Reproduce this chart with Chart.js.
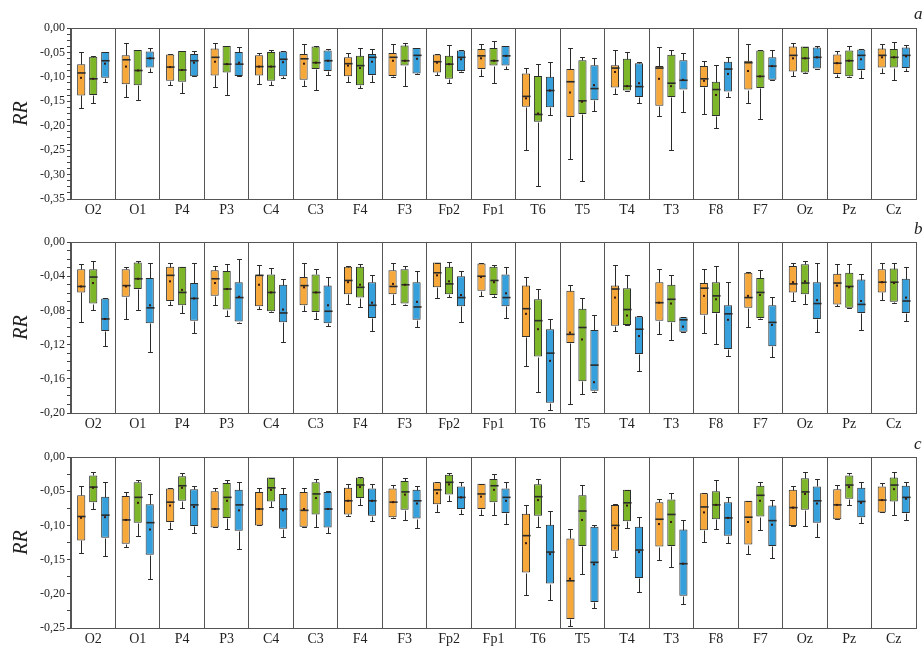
<!DOCTYPE html>
<html>
<head>
<meta charset="utf-8">
<script src="https://cdn.jsdelivr.net/npm/chart.js@4.4.1/dist/chart.umd.min.js"></script>
<style>
  body { margin: 0; background: #fff; width: 923px; height: 646px; overflow: hidden; position: relative; }
  canvas { position: absolute; left: 0; }
  .letter { position: absolute; font-family: "Liberation Serif", serif; font-style: italic; font-size: 17px; color: #222; }
</style>
</head>
<body>
<canvas id="panelA" width="923" height="215" style="top:0px"></canvas>
<canvas id="panelB" width="923" height="215" style="top:215px"></canvas>
<canvas id="panelC" width="923" height="216" style="top:430px"></canvas>
<div class="letter" style="left:914px;top:4px">a</div>
<div class="letter" style="left:914px;top:219px">b</div>
<div class="letter" style="left:914px;top:434px">c</div>
<script>
const electrodes = ["O2", "O1", "P4", "P3", "C4", "C3", "F4", "F3", "Fp2", "Fp1",
    "T6", "T5", "T4", "T3", "F8", "F7", "Oz", "Pz", "Cz"];

// each row: [whisker top, box top, median, box bottom, whisker bottom, mean]
const aOrange = [
    [-0.049, -0.074, -0.092, -0.138, -0.164, -0.102], [-0.030, -0.056, -0.065, -0.115, -0.141, -0.079],
    [-0.054, -0.054, -0.080, -0.108, -0.117, -0.080], [-0.031, -0.042, -0.060, -0.097, -0.121, -0.069],
    [-0.051, -0.056, -0.079, -0.097, -0.114, -0.079], [-0.033, -0.053, -0.063, -0.106, -0.119, -0.073],
    [-0.051, -0.060, -0.073, -0.099, -0.110, -0.077], [-0.033, -0.051, -0.060, -0.098, -0.101, -0.067],
    [-0.054, -0.054, -0.069, -0.091, -0.097, -0.071], [-0.032, -0.043, -0.057, -0.084, -0.099, -0.062],
    [-0.081, -0.093, -0.140, -0.161, -0.250, -0.144], [-0.040, -0.084, -0.110, -0.182, -0.269, -0.132],
    [-0.045, -0.076, -0.082, -0.122, -0.136, -0.090], [-0.038, -0.078, -0.082, -0.159, -0.181, -0.104],
    [-0.067, -0.078, -0.104, -0.121, -0.175, -0.108], [-0.033, -0.067, -0.071, -0.126, -0.154, -0.088],
    [-0.030, -0.038, -0.056, -0.089, -0.099, -0.062], [-0.047, -0.054, -0.072, -0.094, -0.101, -0.072],
    [-0.032, -0.042, -0.056, -0.081, -0.093, -0.060]
];
const aGreen = [
    [-0.058, -0.059, -0.104, -0.137, -0.154, -0.104], [-0.045, -0.045, -0.087, -0.117, -0.147, -0.087],
    [-0.047, -0.047, -0.086, -0.110, -0.134, -0.086], [-0.037, -0.037, -0.074, -0.091, -0.137, -0.074],
    [-0.045, -0.049, -0.079, -0.108, -0.117, -0.079], [-0.036, -0.038, -0.071, -0.084, -0.127, -0.071],
    [-0.040, -0.057, -0.077, -0.117, -0.123, -0.082], [-0.030, -0.036, -0.067, -0.077, -0.119, -0.067],
    [-0.034, -0.057, -0.074, -0.104, -0.112, -0.074], [-0.026, -0.041, -0.067, -0.077, -0.112, -0.067],
    [-0.074, -0.098, -0.177, -0.192, -0.324, -0.175], [-0.060, -0.066, -0.149, -0.176, -0.313, -0.151],
    [-0.049, -0.063, -0.119, -0.128, -0.129, -0.119], [-0.045, -0.055, -0.113, -0.141, -0.250, -0.119],
    [-0.075, -0.110, -0.126, -0.180, -0.204, -0.137], [-0.046, -0.046, -0.099, -0.123, -0.187, -0.099],
    [-0.038, -0.038, -0.062, -0.091, -0.093, -0.062], [-0.037, -0.046, -0.067, -0.099, -0.101, -0.067],
    [-0.028, -0.043, -0.060, -0.081, -0.106, -0.060]
];
const aBlue = [
    [-0.049, -0.049, -0.067, -0.102, -0.111, -0.073], [-0.040, -0.048, -0.062, -0.081, -0.091, -0.062],
    [-0.047, -0.053, -0.067, -0.099, -0.099, -0.071], [-0.038, -0.049, -0.074, -0.098, -0.099, -0.071],
    [-0.047, -0.048, -0.064, -0.099, -0.102, -0.070], [-0.042, -0.046, -0.067, -0.088, -0.097, -0.067],
    [-0.043, -0.053, -0.060, -0.096, -0.110, -0.069], [-0.041, -0.041, -0.056, -0.093, -0.094, -0.063],
    [-0.046, -0.046, -0.060, -0.088, -0.090, -0.064], [-0.037, -0.037, -0.057, -0.077, -0.084, -0.057],
    [-0.069, -0.100, -0.128, -0.162, -0.179, -0.128], [-0.062, -0.076, -0.124, -0.148, -0.169, -0.117],
    [-0.070, -0.072, -0.120, -0.141, -0.154, -0.113], [-0.051, -0.066, -0.107, -0.126, -0.172, -0.106],
    [-0.060, -0.069, -0.084, -0.130, -0.141, -0.094], [-0.046, -0.060, -0.078, -0.106, -0.107, -0.078],
    [-0.037, -0.040, -0.060, -0.083, -0.083, -0.060], [-0.044, -0.044, -0.056, -0.086, -0.102, -0.064],
    [-0.034, -0.040, -0.056, -0.082, -0.087, -0.058]
];

const bOrange = [
    [-0.026, -0.032, -0.052, -0.059, -0.093, -0.052], [-0.029, -0.032, -0.051, -0.064, -0.090, -0.052],
    [-0.024, -0.029, -0.039, -0.069, -0.074, -0.046], [-0.028, -0.033, -0.043, -0.063, -0.074, -0.048],
    [-0.027, -0.039, -0.039, -0.075, -0.078, -0.050], [-0.025, -0.041, -0.051, -0.074, -0.081, -0.053],
    [-0.028, -0.029, -0.045, -0.061, -0.073, -0.047], [-0.024, -0.033, -0.052, -0.061, -0.072, -0.049],
    [-0.024, -0.024, -0.036, -0.053, -0.066, -0.039], [-0.024, -0.025, -0.040, -0.057, -0.063, -0.041],
    [-0.041, -0.051, -0.078, -0.111, -0.145, -0.084], [-0.050, -0.057, -0.108, -0.118, -0.190, -0.106],
    [-0.027, -0.051, -0.055, -0.098, -0.104, -0.065], [-0.032, -0.047, -0.071, -0.092, -0.108, -0.071],
    [-0.031, -0.048, -0.054, -0.085, -0.107, -0.063], [-0.035, -0.036, -0.065, -0.077, -0.099, -0.063],
    [-0.025, -0.028, -0.049, -0.059, -0.069, -0.047], [-0.026, -0.037, -0.048, -0.073, -0.075, -0.051],
    [-0.024, -0.032, -0.047, -0.059, -0.068, -0.047]
];
const bGreen = [
    [-0.022, -0.032, -0.041, -0.072, -0.080, -0.048], [-0.022, -0.024, -0.043, -0.055, -0.079, -0.043],
    [-0.029, -0.029, -0.059, -0.074, -0.083, -0.056], [-0.026, -0.034, -0.055, -0.079, -0.086, -0.055],
    [-0.030, -0.038, -0.059, -0.081, -0.082, -0.059], [-0.032, -0.038, -0.059, -0.082, -0.090, -0.059],
    [-0.026, -0.029, -0.053, -0.065, -0.076, -0.050], [-0.028, -0.032, -0.050, -0.072, -0.074, -0.050],
    [-0.023, -0.029, -0.049, -0.061, -0.064, -0.046], [-0.027, -0.029, -0.045, -0.062, -0.064, -0.047],
    [-0.055, -0.067, -0.092, -0.134, -0.175, -0.102], [-0.066, -0.078, -0.100, -0.163, -0.178, -0.114],
    [-0.039, -0.054, -0.079, -0.097, -0.097, -0.086], [-0.039, -0.050, -0.067, -0.094, -0.115, -0.072],
    [-0.028, -0.047, -0.063, -0.083, -0.119, -0.067], [-0.033, -0.042, -0.059, -0.089, -0.090, -0.062],
    [-0.022, -0.026, -0.048, -0.061, -0.073, -0.046], [-0.026, -0.036, -0.052, -0.077, -0.077, -0.053],
    [-0.025, -0.031, -0.047, -0.070, -0.071, -0.048]
];
const bBlue = [
    [-0.065, -0.066, -0.090, -0.104, -0.122, -0.090], [-0.025, -0.042, -0.077, -0.095, -0.129, -0.074],
    [-0.024, -0.048, -0.066, -0.092, -0.106, -0.066], [-0.020, -0.047, -0.065, -0.093, -0.095, -0.064],
    [-0.043, -0.050, -0.083, -0.094, -0.117, -0.079], [-0.041, -0.051, -0.081, -0.095, -0.098, -0.074],
    [-0.039, -0.047, -0.074, -0.089, -0.104, -0.071], [-0.034, -0.047, -0.076, -0.091, -0.099, -0.070],
    [-0.034, -0.040, -0.065, -0.075, -0.094, -0.062], [-0.029, -0.038, -0.065, -0.075, -0.089, -0.060],
    [-0.090, -0.102, -0.130, -0.188, -0.196, -0.139], [-0.085, -0.103, -0.144, -0.174, -0.175, -0.164],
    [-0.086, -0.087, -0.102, -0.131, -0.151, -0.110], [-0.088, -0.088, -0.091, -0.105, -0.105, -0.099],
    [-0.047, -0.074, -0.084, -0.125, -0.133, -0.091], [-0.064, -0.074, -0.094, -0.122, -0.134, -0.097],
    [-0.024, -0.047, -0.072, -0.090, -0.105, -0.068], [-0.038, -0.044, -0.073, -0.083, -0.103, -0.069],
    [-0.029, -0.043, -0.069, -0.083, -0.092, -0.065]
];

const cOrange = [
    [-0.043, -0.056, -0.087, -0.122, -0.141, -0.089], [-0.051, -0.057, -0.092, -0.127, -0.132, -0.092],
    [-0.046, -0.046, -0.066, -0.095, -0.105, -0.071], [-0.046, -0.050, -0.076, -0.103, -0.103, -0.076],
    [-0.046, -0.051, -0.076, -0.100, -0.100, -0.076], [-0.046, -0.051, -0.078, -0.102, -0.102, -0.076],
    [-0.040, -0.045, -0.064, -0.084, -0.086, -0.064], [-0.041, -0.046, -0.066, -0.088, -0.089, -0.066],
    [-0.037, -0.037, -0.048, -0.069, -0.080, -0.053], [-0.039, -0.039, -0.054, -0.076, -0.085, -0.058],
    [-0.070, -0.083, -0.115, -0.169, -0.202, -0.126], [-0.105, -0.119, -0.181, -0.237, -0.247, -0.178],
    [-0.069, -0.070, -0.100, -0.137, -0.146, -0.104], [-0.061, -0.066, -0.091, -0.131, -0.150, -0.098],
    [-0.052, -0.053, -0.073, -0.107, -0.124, -0.081], [-0.064, -0.064, -0.088, -0.128, -0.142, -0.095],
    [-0.042, -0.048, -0.074, -0.101, -0.101, -0.074], [-0.041, -0.047, -0.070, -0.091, -0.091, -0.070],
    [-0.038, -0.043, -0.063, -0.081, -0.081, -0.063]
];
const cGreen = [
    [-0.022, -0.027, -0.044, -0.066, -0.076, -0.045], [-0.033, -0.037, -0.059, -0.096, -0.116, -0.067],
    [-0.023, -0.028, -0.042, -0.064, -0.075, -0.045], [-0.033, -0.038, -0.059, -0.089, -0.105, -0.064],
    [-0.030, -0.030, -0.045, -0.065, -0.073, -0.048], [-0.032, -0.037, -0.054, -0.084, -0.103, -0.060],
    [-0.029, -0.030, -0.041, -0.060, -0.070, -0.044], [-0.030, -0.035, -0.051, -0.077, -0.092, -0.055],
    [-0.024, -0.026, -0.037, -0.055, -0.065, -0.040], [-0.025, -0.032, -0.042, -0.066, -0.085, -0.048],
    [-0.032, -0.040, -0.058, -0.086, -0.103, -0.063], [-0.041, -0.056, -0.079, -0.130, -0.171, -0.092],
    [-0.048, -0.048, -0.067, -0.094, -0.104, -0.071], [-0.052, -0.062, -0.084, -0.130, -0.161, -0.095],
    [-0.034, -0.050, -0.070, -0.091, -0.105, -0.070], [-0.037, -0.042, -0.056, -0.087, -0.107, -0.064],
    [-0.022, -0.031, -0.051, -0.077, -0.101, -0.054], [-0.024, -0.027, -0.041, -0.061, -0.070, -0.044],
    [-0.022, -0.030, -0.041, -0.065, -0.085, -0.047]
];
const cBlue = [
    [-0.037, -0.058, -0.085, -0.118, -0.145, -0.088], [-0.054, -0.069, -0.096, -0.143, -0.178, -0.106],
    [-0.043, -0.047, -0.070, -0.101, -0.111, -0.073], [-0.037, -0.048, -0.070, -0.108, -0.135, -0.078],
    [-0.045, -0.054, -0.076, -0.105, -0.117, -0.078], [-0.049, -0.051, -0.076, -0.103, -0.111, -0.076],
    [-0.040, -0.046, -0.064, -0.086, -0.094, -0.064], [-0.043, -0.048, -0.064, -0.090, -0.104, -0.068],
    [-0.037, -0.043, -0.059, -0.076, -0.083, -0.059], [-0.037, -0.046, -0.059, -0.082, -0.098, -0.064],
    [-0.079, -0.099, -0.139, -0.185, -0.209, -0.142], [-0.100, -0.102, -0.154, -0.212, -0.221, -0.157],
    [-0.088, -0.102, -0.136, -0.177, -0.197, -0.139], [-0.092, -0.106, -0.156, -0.203, -0.215, -0.156],
    [-0.059, -0.066, -0.089, -0.115, -0.126, -0.089], [-0.063, -0.071, -0.093, -0.130, -0.148, -0.099],
    [-0.032, -0.043, -0.064, -0.096, -0.117, -0.068], [-0.037, -0.045, -0.065, -0.088, -0.097, -0.067],
    [-0.037, -0.042, -0.059, -0.082, -0.092, -0.061]
];

const seriesColors = ["#F6A83B", "#7EB62A", "#35A0DC"];
const serifFont = "'Liberation Serif', 'DejaVu Serif', serif";

// whiskers, caps, median line and mean dot on top of the floating bars
const boxPlotExtras = {
    id: "boxPlotExtras",
    afterDatasetsDraw(chart) {
        const ctx = chart.ctx;
        const yScale = chart.scales.y;
        const py = v => Math.round(yScale.getPixelForValue(v)) + 0.5;
        chart.data.datasets.forEach((ds, di) => {
            const meta = chart.getDatasetMeta(di);
            meta.data.forEach((bar, i) => {
                const s = ds.stats[i];
                const x = Math.round(bar.x) + 0.5;
                const half = bar.width / 2;
                const cap = bar.width * 0.3;
                ctx.save();
                ctx.strokeStyle = "#2a2a2a";
                ctx.lineWidth = 1;
                ctx.beginPath();
                ctx.moveTo(x, py(s[0]));
                ctx.lineTo(x, py(s[1]));
                ctx.moveTo(x, py(s[3]));
                ctx.lineTo(x, py(s[4]));
                ctx.moveTo(x - cap, py(s[0]));
                ctx.lineTo(x + cap, py(s[0]));
                ctx.moveTo(x - cap, py(s[4]));
                ctx.lineTo(x + cap, py(s[4]));
                ctx.stroke();
                ctx.lineWidth = 1.6;
                ctx.beginPath();
                ctx.moveTo(x - half, yScale.getPixelForValue(s[2]));
                ctx.lineTo(x + half, yScale.getPixelForValue(s[2]));
                ctx.stroke();
                ctx.fillStyle = "#3a1a10";
                ctx.fillRect(x - 1.5, yScale.getPixelForValue(s[5]) - 1, 2, 2);
                ctx.restore();
            });
        });
    }
};

const frameBox = {
    id: "frameBox",
    afterDraw(chart) {
        const a = chart.chartArea;
        const ctx = chart.ctx;
        ctx.save();
        ctx.strokeStyle = "#555";
        ctx.lineWidth = 1;
        ctx.strokeRect(Math.round(a.left) + 0.5, Math.round(a.top) + 0.5,
            Math.round(a.right - a.left), Math.round(a.bottom - a.top));
        ctx.restore();
    }
};

function makePanel(canvasId, orange, green, blue, yMin, major, minor, padTop, xHeight) {
    const rows = [orange, green, blue];
    return new Chart(document.getElementById(canvasId), {
        type: "bar",
        data: {
            labels: electrodes,
            datasets: rows.map((r, k) => ({
                data: r.map(s => [s[3], s[1]]),
                stats: r,
                backgroundColor: seriesColors[k],
                borderColor: "#2e2e2e",
                borderWidth: 1,
                borderSkipped: false,
                categoryPercentage: 0.81,
                barPercentage: 0.68
            }))
        },
        options: {
            responsive: false,
            animation: false,
            layout: { padding: { top: padTop, right: 7, left: 0, bottom: 0 } },
            plugins: { legend: { display: false }, tooltip: { enabled: false } },
            scales: {
                x: {
                    grid: { offset: true, color: "#555", drawTicks: false },
                    border: { color: "#555" },
                    ticks: { color: "#222", padding: 3, font: { family: serifFont, size: 14 } },
                    afterFit(scale) { scale.height = xHeight; }
                },
                y: {
                    min: yMin,
                    max: 0,
                    grid: { drawOnChartArea: false, tickLength: 4, color: "#444" },
                    border: { color: "#444" },
                    ticks: {
                        stepSize: minor,
                        autoSkip: false,
                        padding: 2,
                        color: "#222",
                        font: { family: serifFont, size: 12 },
                        callback: function (v) {
                            const r = v / major;
                            if (Math.abs(r - Math.round(r)) > 1e-6) return "";
                            return v.toFixed(2).replace(".", ",");
                        }
                    },
                    title: {
                        display: true,
                        text: "RR",
                        color: "#222",
                        padding: { top: 10, bottom: 2 },
                        font: { family: serifFont, size: 20, style: "italic" }
                    },
                    afterFit(scale) { scale.width = 71; }
                }
            }
        },
        plugins: [boxPlotExtras, frameBox]
    });
}

makePanel("panelA", aOrange, aGreen, aBlue, -0.35, 0.05, 0.0125, 28, 16);
makePanel("panelB", bOrange, bGreen, bBlue, -0.20, 0.04, 0.01, 27, 17);
makePanel("panelC", cOrange, cGreen, cBlue, -0.25, 0.05, 0.025, 27, 18);
</script>
</body>
</html>
